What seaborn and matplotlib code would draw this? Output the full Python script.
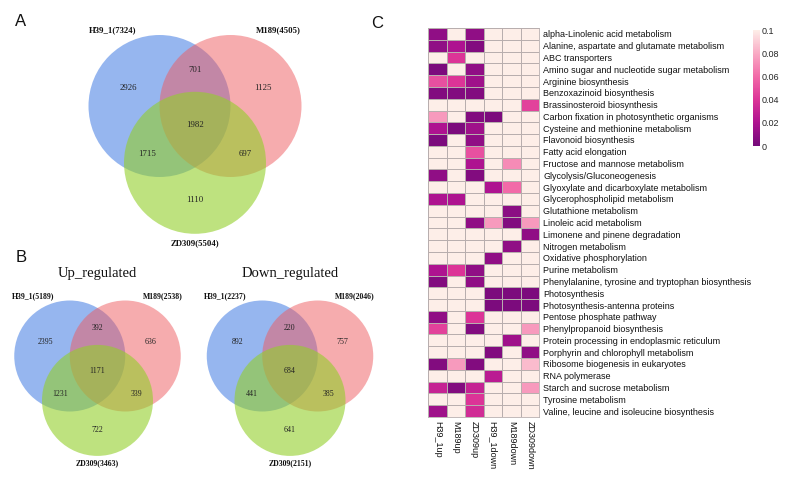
import numpy as np
import pandas as pd
import matplotlib
matplotlib.use("Agg")
import matplotlib.pyplot as plt
from matplotlib.patches import Circle
from matplotlib.colors import LinearSegmentedColormap
import seaborn as sns

sns.set_theme(style="white")
plt.rcParams['font.family'] = ['Liberation Sans', 'DejaVu Sans']

# ---------------- data ----------------
venn_titles = ["", "Up_regulated", "Down_regulated"]
venn_set_labels = [
    ["H39_1(7324)", "M189(4505)", "ZD309(5504)"],
    ["H39_1(5189)", "M189(2538)", "ZD309(3463)"],
    ["H39_1(2237)", "M189(2046)", "ZD309(2151)"],
]
# order: A only, AB, B only, ABC, AC, BC, C only
venn_counts = [
    [2926, 701, 1125, 1982, 1715, 697, 1110],
    [2395, 392, 636, 1171, 1231, 339, 722],
    [892, 220, 757, 684, 441, 385, 641],
]

samples = ["H39_1up", "M189up", "ZD309up", "H39_1down", "M189down", "ZD309down"]
pathways = [
    "alpha-Linolenic acid metabolism",
    "Alanine, aspartate and glutamate metabolism",
    "ABC transporters",
    "Amino sugar and nucleotide sugar metabolism",
    "Arginine biosynthesis",
    "Benzoxazinoid biosynthesis",
    "Brassinosteroid biosynthesis",
    "Carbon fixation in photosynthetic organisms",
    "Cysteine and methionine metabolism",
    "Flavonoid biosynthesis",
    "Fatty acid elongation",
    "Fructose and mannose metabolism",
    "Glycolysis/Gluconeogenesis",
    "Glyoxylate and dicarboxylate metabolism",
    "Glycerophospholipid metabolism",
    "Glutathione metabolism",
    "Linoleic acid metabolism",
    "Limonene and pinene degradation",
    "Nitrogen metabolism",
    "Oxidative phosphorylation",
    "Purine metabolism",
    "Phenylalanine, tyrosine and tryptophan biosynthesis",
    "Photosynthesis",
    "Photosynthesis-antenna proteins",
    "Pentose phosphate pathway",
    "Phenylpropanoid biosynthesis",
    "Protein processing in endoplasmic reticulum",
    "Porphyrin and chlorophyll metabolism",
    "Ribosome biogenesis in eukaryotes",
    "RNA polymerase",
    "Starch and sucrose metabolism",
    "Tyrosine metabolism",
    "Valine, leucine and isoleucine biosynthesis",
]
pvalues = [
    [0.010, 0.100, 0.010, 0.100, 0.100, 0.100],
    [0.010, 0.020, 0.005, 0.100, 0.100, 0.100],
    [0.100, 0.040, 0.100, 0.100, 0.100, 0.100],
    [0.003, 0.100, 0.010, 0.100, 0.100, 0.100],
    [0.050, 0.040, 0.015, 0.100, 0.100, 0.100],
    [0.005, 0.005, 0.005, 0.100, 0.100, 0.100],
    [0.100, 0.100, 0.100, 0.100, 0.100, 0.045],
    [0.075, 0.100, 0.005, 0.003, 0.100, 0.100],
    [0.020, 0.003, 0.015, 0.100, 0.100, 0.100],
    [0.003, 0.100, 0.010, 0.100, 0.100, 0.100],
    [0.100, 0.100, 0.050, 0.100, 0.100, 0.100],
    [0.100, 0.100, 0.020, 0.100, 0.070, 0.100],
    [0.010, 0.100, 0.005, 0.100, 0.100, 0.100],
    [0.100, 0.100, 0.100, 0.020, 0.060, 0.100],
    [0.020, 0.020, 0.100, 0.100, 0.100, 0.100],
    [0.100, 0.100, 0.100, 0.100, 0.008, 0.100],
    [0.100, 0.100, 0.010, 0.075, 0.005, 0.075],
    [0.100, 0.100, 0.100, 0.100, 0.100, 0.010],
    [0.100, 0.100, 0.100, 0.100, 0.010, 0.100],
    [0.100, 0.100, 0.100, 0.010, 0.100, 0.100],
    [0.020, 0.040, 0.010, 0.100, 0.100, 0.100],
    [0.005, 0.100, 0.010, 0.100, 0.100, 0.100],
    [0.100, 0.100, 0.100, 0.003, 0.003, 0.003],
    [0.100, 0.100, 0.100, 0.003, 0.003, 0.003],
    [0.010, 0.100, 0.040, 0.100, 0.100, 0.100],
    [0.045, 0.100, 0.005, 0.100, 0.100, 0.075],
    [0.100, 0.100, 0.100, 0.100, 0.015, 0.100],
    [0.100, 0.100, 0.100, 0.005, 0.100, 0.010],
    [0.005, 0.075, 0.005, 0.100, 0.100, 0.085],
    [0.100, 0.100, 0.100, 0.025, 0.100, 0.100],
    [0.030, 0.005, 0.030, 0.100, 0.100, 0.075],
    [0.100, 0.100, 0.040, 0.100, 0.100, 0.100],
    [0.015, 0.100, 0.035, 0.100, 0.100, 0.100],
]

# ---------------- figure ----------------
W, H = 796, 483
fig = plt.figure(figsize=(W / 100, H / 100), dpi=100)
fig.patch.set_facecolor("white")

# overlay axes in pixel coordinates for Venn diagrams
ov = fig.add_axes([0, 0, 1, 1])
ov.set_xlim(0, W)
ov.set_ylim(H, 0)
ov.axis("off")

circle_colors = ["#2f6fe0", "#ee5a5f", "#93cf2a"]
circle_alpha = [0.5, 0.5, 0.6]
# layout: (center x, center y of A/B midline, radius)
venn_layout = [(195, 106, 71), (97.5, 356, 55.5), (290, 356, 55.5)]
num_sizes = [6.3, 5.7, 5.7]
lab_sizes = [6.3, 5.6, 5.6]
region_rel = [(-0.94, -0.25), (0, -0.50), (0.95, -0.25), (0, 0.27),
              (-0.68, 0.68), (0.70, 0.68), (0, 1.33)]
label_rel = [(-1.16, -1.07), (1.17, -1.07), (0, 1.93)]
serif = ['Liberation Serif', 'DejaVu Serif']

for k, (cx, cy, r) in enumerate(venn_layout):
    centers = [(cx - 0.5 * r, cy), (cx + 0.5 * r, cy), (cx, cy + 0.8 * r)]
    for (x, y), c, a in zip(centers, circle_colors, circle_alpha):
        ov.add_patch(Circle((x, y), r, facecolor=c, alpha=a, edgecolor="none"))
    for (rx, ry), n in zip(region_rel, venn_counts[k]):
        ov.text(cx + rx * r, cy + ry * r, str(n), ha="center", va="center",
                fontsize=num_sizes[k], family=serif, color="#222222")
    for (rx, ry), lab in zip(label_rel, venn_set_labels[k]):
        ov.text(cx + rx * r, cy + ry * r, lab, ha="center", va="center",
                fontsize=lab_sizes[k], family=serif, fontweight="bold", color="#111111")
    if venn_titles[k]:
        ov.text(cx, 274, venn_titles[k], ha="center", va="center",
                fontsize=10.5, family=serif, color="#111111")

for lab, (x, y) in zip(["A", "B", "C"], [(21, 22), (21, 258), (377, 24)]):
    ov.text(x, y, lab, ha="center", va="center", fontsize=12, color="#111111")

# ---------------- heatmap ----------------
cmap = LinearSegmentedColormap.from_list(
    "pv", ["#740a7a", "#ae1390", "#dc3497", "#f26aa8", "#f9aac4", "#fdeee8"])
df = pd.DataFrame(pvalues, index=pathways, columns=samples)

hx0, hx1, hy0, hy1 = 428, 539, 28, 417
hax = fig.add_axes([hx0 / W, 1 - hy1 / H, (hx1 - hx0) / W, (hy1 - hy0) / H])
cax = fig.add_axes([753 / W, 1 - 146 / H, 7 / W, 116 / H])
sns.heatmap(df, ax=hax, cmap=cmap, vmin=0, vmax=0.1, linewidths=0.6,
            linecolor="#b8aeae", cbar=True, cbar_ax=cax)
hax.yaxis.tick_right()
hax.set_yticks(np.arange(len(pathways)) + 0.5)
hax.set_yticklabels(pathways, rotation=0, fontsize=6.5, color="#111111")
hax.set_xticks(np.arange(len(samples)) + 0.5)
hax.set_xticklabels(samples, rotation=270, fontsize=6.5, color="#111111")
hax.tick_params(length=0, pad=3)
hax.set_xlabel("")
hax.set_ylabel("")
for s in hax.spines.values():
    s.set_visible(True)
    s.set_color("#b8aeae")
    s.set_linewidth(0.6)

cb = hax.collections[0].colorbar
cb.set_ticks([0, 0.02, 0.04, 0.06, 0.08, 0.1])
cb.set_ticklabels(["0", "0.02", "0.04", "0.06", "0.08", "0.1"])
cb.ax.tick_params(labelsize=6.5, length=0, pad=1)
cb.outline.set_visible(False)

fig.savefig("out.png", dpi=100, facecolor="white")
